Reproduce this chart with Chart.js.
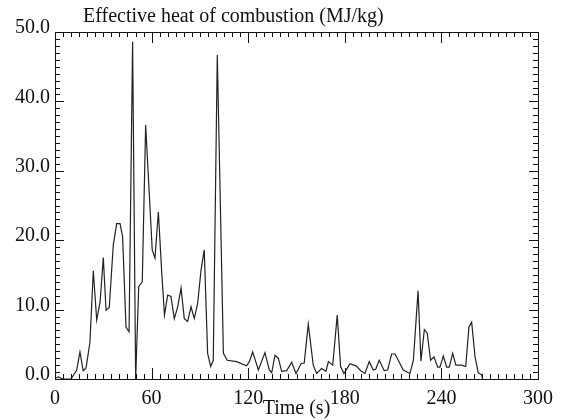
<!DOCTYPE html>
<html>
<head>
<meta charset="utf-8">
<script src="https://cdn.jsdelivr.net/npm/chart.js@4/dist/chart.umd.min.js"></script>
<style>
  html, body { margin: 0; padding: 0; background: #fff; }
  #wrap { width: 566px; height: 420px; }
</style>
</head>
<body>
<div id="wrap"><canvas id="heatChart" width="566" height="420"></canvas></div>
<script>
// values
const times = [0, 2, 5, 10, 13.5, 15.5, 17.5, 19.3, 21.7, 23.8, 25.9, 28, 30, 31.7, 33.7, 36.2, 38.3, 40.4, 42, 44.1,
    46, 48.2, 50.1, 52, 54.2, 56.3, 60.4, 62.1, 64.2, 66.3, 68, 70, 72, 74.1, 76.2, 78.3, 80.3, 82.4, 84.5, 86.5,
    88.6, 90.7, 92.7, 94.8, 96.7, 98.3, 100.8, 104.6, 107, 112.8, 119, 120.7, 122.8, 126.3, 130.4, 133.1, 134.6, 136.6, 138.7, 140.8,
    143.9, 147, 149.7, 152.8, 154.8, 157.3, 160.4, 162.5, 165.6, 168.3, 169.8, 172.5, 175.3, 177.4, 179.5, 183.2, 187, 189.9, 192.5, 195.2,
    197.7, 199.2, 201.4, 204.5, 206.6, 209.1, 211.2, 213.2, 216.3, 220.5, 222.6, 225.5, 227.3, 229.4, 231.2, 233.3, 235.4, 237.7, 239.1, 241.2,
    243.3, 244.9, 247, 249, 252.6, 255.1, 257.1, 258.8, 260.9, 262.9, 265, 265.6];
const heatValues = [0.1, 0.3, 0, 0, 1.3, 3.9, 1.2, 1.6, 5.3, 15.6, 8.5, 11.1, 17.5, 9.9, 10.3, 19.3, 22.4, 22.4, 20.5, 7.5,
    6.8, 48.6, 0, 13.3, 14.0, 36.6, 18.6, 17.4, 24.1, 15.3, 9.2, 12.1, 11.9, 8.7, 10.4, 13.1, 8.7, 8.3, 10.4, 8.7,
    10.9, 15.7, 18.6, 3.7, 1.8, 2.7, 46.7, 3.7, 2.7, 2.5, 1.9, 2.5, 3.9, 1.3, 3.8, 1.3, 0.9, 3.4, 3.0, 1.1,
    1.2, 2.4, 0.8, 2.2, 2.3, 7.9, 2.0, 0.8, 1.5, 1.1, 2.5, 2.0, 9.2, 1.8, 0.8, 2.2, 1.9, 1.2, 0.8, 2.5,
    1.3, 1.4, 2.7, 1.2, 1.3, 3.6, 3.6, 2.7, 1.3, 0.8, 2.7, 12.7, 2.6, 7.1, 6.6, 2.7, 3.2, 1.7, 1.7, 3.3,
    1.7, 1.7, 3.7, 2.0, 2.0, 1.8, 7.5, 8.2, 3.2, 0.9, 0.6, 0];

const xTicks = [0, 60, 120, 180, 240, 300];
const yTicks = [0, 10, 20, 30, 40, 50];

const titleText = "Effective heat of combustion (MJ/kg)";
const xTitle = "Time (s)";
const serif = "'Liberation Serif', 'DejaVu Serif', serif";
const ink = "#111";

// frame, inward ticks on all four sides, and the title
const framePlugin = {
    id: "frame",
    afterDraw(chart) {
        const ctx = chart.ctx;
        const area = chart.chartArea;
        const xs = chart.scales.x;
        const ys = chart.scales.y;
        ctx.save();
        ctx.strokeStyle = ink;
        ctx.lineWidth = 1;
        ctx.strokeRect(area.left + 0.5, area.top + 0.5, area.right - area.left, area.bottom - area.top);

        ctx.beginPath();
        for (let t = 0; t <= 300; t += 5) {
            const px = Math.round(xs.getPixelForValue(t)) + 0.5;
            const len = t % 60 === 0 ? 11 : 5;
            ctx.moveTo(px, area.bottom);
            ctx.lineTo(px, area.bottom - len);
            ctx.moveTo(px, area.top);
            ctx.lineTo(px, area.top + len);
        }
        for (let v = 0; v <= 50; v += 1) {
            const py = Math.round(ys.getPixelForValue(v)) + 0.5;
            const len = v % 10 === 0 ? 9 : 5;
            ctx.moveTo(area.left, py);
            ctx.lineTo(area.left + len, py);
            ctx.moveTo(area.right, py);
            ctx.lineTo(area.right - len, py);
        }
        ctx.stroke();

        ctx.fillStyle = ink;
        ctx.font = "20px " + serif;
        ctx.textBaseline = "alphabetic";
        ctx.textAlign = "left";
        ctx.fillText(titleText, area.left + 28, 22);
        ctx.restore();
    }
};

document.addEventListener("DOMContentLoaded", () => {
    const ctx = document.getElementById("heatChart").getContext("2d");

    new Chart(ctx, {
        type: "line",
        data: {
            datasets: [
                {
                    label: "Effective heat of combustion",
                    data: times.map((t, i) => ({ x: t, y: heatValues[i] })),
                    borderColor: "#222",
                    borderWidth: 1.2,
                    pointRadius: 0,
                    tension: 0,
                    fill: false,
                },
            ],
        },
        options: {
            responsive: false,
            animation: false,
            layout: {
                padding: { left: 0, right: 28, top: 32, bottom: 0 },
            },
            plugins: {
                legend: { display: false },
                tooltip: { enabled: false },
            },
            scales: {
                x: {
                    type: "linear",
                    min: 0,
                    max: 300,
                    afterBuildTicks: (scale) => {
                        scale.ticks = xTicks.map((v) => ({ value: v }));
                    },
                    afterFit: (scale) => {
                        scale.height = 41;
                    },
                    grid: { display: false, drawTicks: false },
                    border: { display: false },
                    ticks: {
                        color: ink,
                        padding: 8,
                        maxRotation: 0,
                        autoSkip: false,
                        font: { family: serif, size: 20 },
                    },
                    title: {
                        display: true,
                        text: xTitle,
                        color: ink,
                        padding: { top: 0, bottom: -1 },
                        font: { family: serif, size: 20 },
                    },
                },
                y: {
                    min: 0,
                    max: 50,
                    afterBuildTicks: (scale) => {
                        scale.ticks = yTicks.map((v) => ({ value: v }));
                    },
                    afterFit: (scale) => {
                        scale.width = 55;
                    },
                    grid: { display: false, drawTicks: false },
                    border: { display: false },
                    ticks: {
                        color: ink,
                        padding: 5,
                        labelOffset: -4,
                        autoSkip: false,
                        font: { family: serif, size: 20 },
                        callback: (v) => Number(v).toFixed(1),
                    },
                },
            },
        },
        plugins: [framePlugin],
    });
});
</script>
</body>
</html>
